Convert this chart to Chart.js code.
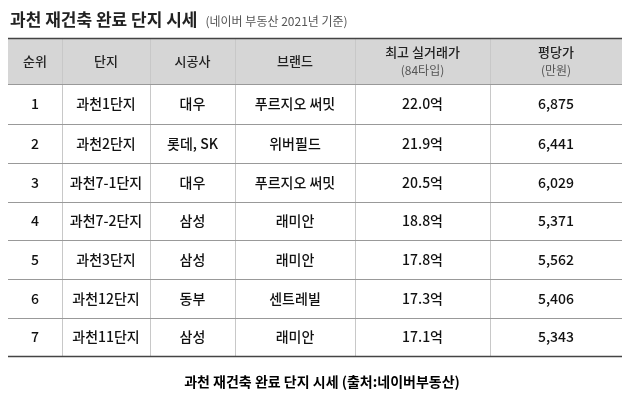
<!DOCTYPE html>
<html><head><meta charset="utf-8">
<script src="https://cdn.jsdelivr.net/npm/chart.js@4"></script>
<style>body{margin:0;background:#fff}#wrap{width:630px;height:407px}</style>
</head><body><div id="wrap"><canvas id="c"></canvas></div>
<script>
const headers = [["순위"], ["단지"], ["시공사"], ["브랜드"], ["최고 실거래가", "(84타입)"], ["평당가", "(만원)"]];
const ranks = ["1", "2", "3", "4", "5", "6", "7"];
const complexes = ["과천1단지", "과천2단지", "과천7-1단지", "과천7-2단지", "과천3단지", "과천12단지", "과천11단지"];
const builders = ["대우", "롯데, SK", "대우", "삼성", "삼성", "동부", "삼성"];
const brands = ["푸르지오 써밋", "위버필드", "푸르지오 써밋", "래미안", "래미안", "센트레빌", "래미안"];
const topPrices = ["22.0억", "21.9억", "20.5억", "18.8억", "17.8억", "17.3억", "17.1억"];
const perPyeong = ["6,875", "6,441", "6,029", "5,371", "5,562", "5,406", "5,343"];

// table grid in scale units (pixels of the table box)
const colEdges = [0, 54, 142, 227, 347, 482, 614];
const rowEdges = [0, 46, 86, 125, 164, 202, 241, 280, 318];

const columns = [ranks, complexes, builders, brands, topPrices, perPyeong];
const font = "'Noto Sans CJK KR', 'Noto Sans', sans-serif";

const tablePlugin = {
  id: "table",
  beforeDatasetsDraw(chart) {
    const { ctx, scales: { x, y } } = chart;
    const X = v => x.getPixelForValue(v), Y = v => y.getPixelForValue(v);
    ctx.save();
    ctx.fillStyle = "#d6d6d6";
    ctx.fillRect(X(0), Y(0), X(614) - X(0), Y(46) - Y(0));
    // vertical lines
    ctx.strokeStyle = "#c8c8c8"; ctx.lineWidth = 1;
    colEdges.slice(1, -1).forEach(c => {
      ctx.beginPath(); ctx.moveTo(X(c) + 0.5, Y(0)); ctx.lineTo(X(c) + 0.5, Y(318)); ctx.stroke();
    });
    // horizontal lines
    rowEdges.forEach((r, i) => {
      ctx.strokeStyle = (i === 0 || i === rowEdges.length - 1) ? "#444" : "#999";
      ctx.lineWidth = (i === 0 || i === rowEdges.length - 1) ? 1.5 : 1;
      ctx.beginPath(); ctx.moveTo(X(0), Y(r) + 0.5); ctx.lineTo(X(614), Y(r) + 0.5); ctx.stroke();
    });
    ctx.textAlign = "center"; ctx.textBaseline = "middle";
    headers.forEach((h, ci) => {
      const cx = X((colEdges[ci] + colEdges[ci + 1]) / 2);
      const cy = Y(23);
      ctx.fillStyle = "#222"; ctx.font = "500 13px " + font;
      if (h.length === 1) ctx.fillText(h[0], cx, cy);
      else {
        ctx.fillText(h[0], cx, cy - 9);
        ctx.fillStyle = "#555"; ctx.font = "12px " + font;
        ctx.fillText(h[1], cx, cy + 9);
      }
    });
    ctx.fillStyle = "#111"; ctx.font = "500 14px " + font;
    columns.forEach((col, ci) => {
      const cx = X((colEdges[ci] + colEdges[ci + 1]) / 2);
      col.forEach((v, ri) => {
        ctx.fillText(v, cx, Y((rowEdges[ri + 1] + rowEdges[ri + 2]) / 2));
      });
    });
    // title and caption
    const area = chart.chartArea;
    ctx.textAlign = "left";
    ctx.fillStyle = "#222"; ctx.font = "bold 17px " + font;
    ctx.fillText("과천 재건축 완료 단지 시세", 10, 20);
    const w = ctx.measureText("과천 재건축 완료 단지 시세").width;
    ctx.fillStyle = "#555"; ctx.font = "12px " + font;
    ctx.fillText("(네이버 부동산 2021년 기준)", 10 + w + 8, 21);
    ctx.textAlign = "center"; ctx.fillStyle = "#000"; ctx.font = "bold 14px " + font;
    ctx.fillText("과천 재건축 완료 단지 시세 (출처:네이버부동산)", 322, area.bottom + 26);
    ctx.restore();
  }
};

new Chart(document.getElementById("c"), {
  type: "scatter",
  data: { datasets: [{ data: [], pointRadius: 0 }] },
  options: {
    responsive: true, maintainAspectRatio: false, animation: false,
    layout: { padding: { left: 8, right: 8, top: 38, bottom: 51 } },
    scales: {
      x: { type: "linear", display: false, min: 0, max: 614 },
      y: { type: "linear", display: false, min: 0, max: 318, reverse: true }
    },
    plugins: { legend: { display: false }, tooltip: { enabled: false } }
  },
  plugins: [tablePlugin]
});
</script></body></html>
